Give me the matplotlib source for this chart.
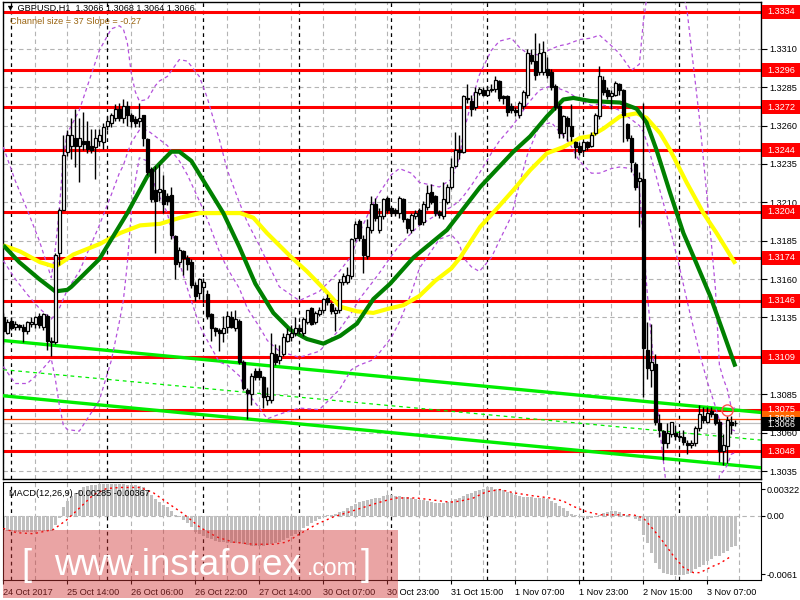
import matplotlib
matplotlib.use("Agg")
import matplotlib.pyplot as plt
import matplotlib.transforms as mtransforms
from matplotlib.patches import Rectangle
import numpy as np

plt.rcParams['font.family'] = ['Liberation Sans', 'DejaVu Sans']

# ---- GBPUSD H1 candles (24 Oct 22:00 .. 3 Nov 14:00) ----
opens = [1.3135, 1.3125, 1.3133, 1.3129, 1.3130, 1.3129, 1.3126, 1.3131, 1.3131, 1.3136,
         1.3129, 1.3136, 1.3120, 1.3119, 1.3177, 1.3205, 1.3243, 1.3247, 1.3252, 1.3247,
         1.3250, 1.3250, 1.3247, 1.3246, 1.3250, 1.3249, 1.3260, 1.3262, 1.3265, 1.3271,
         1.3265, 1.3273, 1.3267, 1.3264, 1.3263, 1.3267, 1.3251, 1.3232, 1.3218, 1.3217,
         1.3218, 1.3214, 1.3215, 1.3188, 1.3171, 1.3178, 1.3174, 1.3171, 1.3156, 1.3151,
         1.3155, 1.3150, 1.3137, 1.3128, 1.3127, 1.3125, 1.3129, 1.3135, 1.3128, 1.3133,
         1.3106, 1.3088, 1.3085, 1.3100, 1.3100, 1.3096, 1.3081, 1.3081, 1.3111, 1.3107,
         1.3111, 1.3120, 1.3122, 1.3125, 1.3128, 1.3125, 1.3132, 1.3141, 1.3132, 1.3137,
         1.3140, 1.3148, 1.3144, 1.3138, 1.3140, 1.3158, 1.3158, 1.3162, 1.3187, 1.3198,
         1.3186, 1.3175, 1.3192, 1.3209, 1.3192, 1.3201, 1.3213, 1.3206, 1.3205, 1.3203,
         1.3212, 1.3199, 1.3192, 1.3201, 1.3205, 1.3197, 1.3207, 1.3217, 1.3214, 1.3204,
         1.3201, 1.3210, 1.3220, 1.3234, 1.3244, 1.3243, 1.3278, 1.3276, 1.3272, 1.3281,
         1.3283, 1.3280, 1.3283, 1.3284, 1.3289, 1.3279, 1.3279, 1.3273, 1.3270, 1.3267,
         1.3273, 1.3280, 1.3306, 1.3302, 1.3295, 1.3295, 1.3297, 1.3295, 1.3286, 1.3273,
         1.3255, 1.3265, 1.3260, 1.3249, 1.3247, 1.3244, 1.3249, 1.3247, 1.3255, 1.3266,
         1.3290, 1.3283, 1.3279, 1.3280, 1.3287, 1.3283, 1.3261, 1.3252, 1.3235, 1.3224,
         1.3225, 1.3114, 1.3101, 1.3105, 1.3066, 1.3061, 1.3053, 1.3059, 1.3060, 1.3058,
         1.3057, 1.3053, 1.3052, 1.3053, 1.3063, 1.3071, 1.3067, 1.3074, 1.3072, 1.3067,
         1.3048, 1.3051, 1.3067, 1.3066]
highs = [1.3138, 1.3134, 1.3135, 1.3133, 1.3131, 1.3131, 1.3133, 1.3135, 1.3136, 1.3138,
         1.3138, 1.3137, 1.3122, 1.3177, 1.3206, 1.3254, 1.3257, 1.3265, 1.3271, 1.3265,
         1.3269, 1.3263, 1.3258, 1.3258, 1.3258, 1.3262, 1.3266, 1.3268, 1.3274, 1.3275,
         1.3277, 1.3276, 1.3268, 1.3266, 1.3275, 1.3267, 1.3252, 1.3233, 1.3234, 1.3235,
         1.3228, 1.3216, 1.3220, 1.3189, 1.3181, 1.3179, 1.3176, 1.3173, 1.3158, 1.3161,
         1.3161, 1.3153, 1.3138, 1.3129, 1.3128, 1.3136, 1.3139, 1.3139, 1.3140, 1.3134,
         1.3107, 1.3089, 1.3099, 1.3102, 1.3102, 1.3097, 1.3090, 1.3125, 1.3118, 1.3117,
         1.3125, 1.3128, 1.3130, 1.3135, 1.3131, 1.3135, 1.3140, 1.3142, 1.3139, 1.3142,
         1.3148, 1.3150, 1.3145, 1.3142, 1.3160, 1.3164, 1.3168, 1.3187, 1.3198, 1.3199,
         1.3189, 1.3199, 1.3214, 1.3213, 1.3206, 1.3213, 1.3214, 1.3207, 1.3206, 1.3214,
         1.3213, 1.3200, 1.3203, 1.3205, 1.3206, 1.3211, 1.3221, 1.3222, 1.3215, 1.3205,
         1.3223, 1.3222, 1.3239, 1.3256, 1.3254, 1.3280, 1.3287, 1.3280, 1.3285, 1.3285,
         1.3285, 1.3286, 1.3287, 1.3292, 1.3290, 1.3280, 1.3280, 1.3275, 1.3272, 1.3276,
         1.3283, 1.3310, 1.3310, 1.3320, 1.3314, 1.3315, 1.3305, 1.3297, 1.3287, 1.3275,
         1.3267, 1.3266, 1.3274, 1.3250, 1.3249, 1.3250, 1.3250, 1.3256, 1.3268, 1.3299,
         1.3292, 1.3285, 1.3283, 1.3289, 1.3288, 1.3284, 1.3262, 1.3254, 1.3236, 1.3230,
         1.3275, 1.3132, 1.3131, 1.3111, 1.3072, 1.3062, 1.3066, 1.3067, 1.3065, 1.3060,
         1.3062, 1.3055, 1.3055, 1.3064, 1.3078, 1.3077, 1.3077, 1.3077, 1.3073, 1.3069,
         1.3059, 1.3071, 1.3071, 1.3068]
lows = [1.3118, 1.3124, 1.3127, 1.3127, 1.3127, 1.3119, 1.3124, 1.3129, 1.3128, 1.3128,
        1.3127, 1.3114, 1.3110, 1.3118, 1.3169, 1.3205, 1.3240, 1.3238, 1.3233, 1.3223,
        1.3244, 1.3242, 1.3242, 1.3225, 1.3247, 1.3245, 1.3257, 1.3259, 1.3263, 1.3263,
        1.3262, 1.3260, 1.3259, 1.3259, 1.3259, 1.3247, 1.3228, 1.3210, 1.3177, 1.3211,
        1.3203, 1.3208, 1.3186, 1.3160, 1.3168, 1.3163, 1.3166, 1.3154, 1.3146, 1.3147,
        1.3145, 1.3134, 1.3120, 1.3123, 1.3113, 1.3119, 1.3125, 1.3128, 1.3126, 1.3105,
        1.3088, 1.3069, 1.3078, 1.3094, 1.3094, 1.3076, 1.3078, 1.3079, 1.3104, 1.3105,
        1.3110, 1.3119, 1.3120, 1.3123, 1.3124, 1.3123, 1.3131, 1.3130, 1.3131, 1.3136,
        1.3138, 1.3143, 1.3137, 1.3126, 1.3138, 1.3156, 1.3157, 1.3160, 1.3185, 1.3185,
        1.3164, 1.3173, 1.3190, 1.3198, 1.3190, 1.3199, 1.3203, 1.3201, 1.3201, 1.3200,
        1.3197, 1.3190, 1.3190, 1.3199, 1.3195, 1.3195, 1.3205, 1.3209, 1.3201, 1.3200,
        1.3199, 1.3209, 1.3219, 1.3233, 1.3238, 1.3242, 1.3275, 1.3266, 1.3270, 1.3280,
        1.3279, 1.3279, 1.3282, 1.3282, 1.3276, 1.3274, 1.3266, 1.3268, 1.3266, 1.3265,
        1.3271, 1.3278, 1.3300, 1.3290, 1.3293, 1.3293, 1.3291, 1.3283, 1.3270, 1.3252,
        1.3252, 1.3250, 1.3250, 1.3239, 1.3241, 1.3242, 1.3244, 1.3246, 1.3254, 1.3264,
        1.3280, 1.3277, 1.3271, 1.3279, 1.3280, 1.3249, 1.3250, 1.3230, 1.3218, 1.3194,
        1.3083, 1.3095, 1.3090, 1.3065, 1.3057, 1.3042, 1.3050, 1.3057, 1.3055, 1.3055,
        1.3052, 1.3046, 1.3050, 1.3051, 1.3061, 1.3066, 1.3066, 1.3070, 1.3065, 1.3041,
        1.3039, 1.3040, 1.3059, 1.3064]
closes = [1.3126, 1.3132, 1.3128, 1.3131, 1.3129, 1.3126, 1.3132, 1.3132, 1.3135, 1.3130,
          1.3137, 1.3120, 1.3119, 1.3176, 1.3205, 1.3241, 1.3254, 1.3254, 1.3247, 1.3252,
          1.3248, 1.3245, 1.3244, 1.3252, 1.3254, 1.3259, 1.3263, 1.3267, 1.3271, 1.3265,
          1.3273, 1.3267, 1.3263, 1.3262, 1.3265, 1.3252, 1.3230, 1.3212, 1.3211, 1.3219,
          1.3209, 1.3211, 1.3189, 1.3170, 1.3179, 1.3174, 1.3170, 1.3156, 1.3149, 1.3160,
          1.3158, 1.3136, 1.3128, 1.3126, 1.3125, 1.3128, 1.3136, 1.3129, 1.3134, 1.3106,
          1.3089, 1.3086, 1.3097, 1.3096, 1.3096, 1.3083, 1.3084, 1.3112, 1.3106, 1.3110,
          1.3122, 1.3124, 1.3125, 1.3128, 1.3126, 1.3134, 1.3140, 1.3131, 1.3138, 1.3140,
          1.3147, 1.3145, 1.3139, 1.3140, 1.3158, 1.3162, 1.3163, 1.3186, 1.3196, 1.3187,
          1.3176, 1.3194, 1.3209, 1.3200, 1.3201, 1.3212, 1.3205, 1.3203, 1.3203, 1.3213,
          1.3199, 1.3193, 1.3202, 1.3203, 1.3196, 1.3209, 1.3216, 1.3210, 1.3203, 1.3202,
          1.3212, 1.3220, 1.3233, 1.3244, 1.3243, 1.3279, 1.3277, 1.3271, 1.3282, 1.3284,
          1.3280, 1.3283, 1.3284, 1.3290, 1.3278, 1.3278, 1.3269, 1.3270, 1.3269, 1.3275,
          1.3282, 1.3307, 1.3302, 1.3293, 1.3307, 1.3308, 1.3293, 1.3285, 1.3272, 1.3255,
          1.3266, 1.3260, 1.3253, 1.3246, 1.3243, 1.3249, 1.3246, 1.3254, 1.3267, 1.3292,
          1.3282, 1.3279, 1.3281, 1.3288, 1.3283, 1.3267, 1.3252, 1.3236, 1.3220, 1.3226,
          1.3115, 1.3102, 1.3106, 1.3067, 1.3062, 1.3053, 1.3060, 1.3067, 1.3058, 1.3057,
          1.3054, 1.3052, 1.3053, 1.3063, 1.3072, 1.3068, 1.3073, 1.3072, 1.3066, 1.3048,
          1.3052, 1.3068, 1.3065, 1.3066]

# moving averages (bar index, price)
green_idx = [0, 4, 9, 13, 16, 17, 24, 31, 36, 42, 44, 47, 51, 55, 59, 63, 67.5, 71.7, 75.9, 80,
             84.2, 88.4, 92.5, 96.7, 102.5, 110.9, 119.2, 127.5, 131.7, 135.9, 140, 142.5,
             146.7, 154.2, 158.3, 160.8, 163.3, 166.7, 170, 173.3, 176.7, 180, 183]
green_val = [1.3182, 1.3171, 1.3160, 1.3152, 1.3153, 1.3155, 1.3173, 1.3203, 1.3227, 1.3243,
             1.3243, 1.3237, 1.3220, 1.3203, 1.3181, 1.3157, 1.3138, 1.3127, 1.3121, 1.3118,
             1.3123, 1.3131, 1.3147, 1.3157, 1.3174, 1.3192, 1.3220, 1.3243, 1.3253, 1.3266,
             1.3277, 1.3278, 1.3276, 1.3275, 1.3271, 1.3262, 1.3244, 1.3216, 1.3190, 1.3170,
             1.3149, 1.3125, 1.3103]
yellow_idx = [0, 4.2, 9.2, 13, 17.5, 24.2, 29.2, 34.2, 39.2, 44.2, 49.2, 55, 59.2, 62.5, 65.9,
              71.7, 75.9, 80, 84.2, 88.4, 92.5, 96.7, 100, 104, 108, 112, 114.2, 119.2, 123.4,
              127.5, 131.7, 135.9, 140, 144.2, 146.7, 150, 154.2, 158.3, 160.8, 164.2, 166.7,
              170.8, 175, 178.3, 183]
yellow_val = [1.3182, 1.3178, 1.3171, 1.3168, 1.3176, 1.3183, 1.3190, 1.3195, 1.3196, 1.3200,
              1.3203, 1.3203, 1.3203, 1.3200, 1.3190, 1.3175, 1.3165, 1.3154, 1.3142, 1.3139,
              1.3138, 1.3141, 1.3143, 1.3149, 1.3159, 1.3167, 1.3174, 1.3194, 1.3206, 1.3218,
              1.3231, 1.3242, 1.3246, 1.3252, 1.3253, 1.3258, 1.3266, 1.3268, 1.3265, 1.3255,
              1.3244, 1.3223, 1.3203, 1.3190, 1.3170]

# bollinger bands (upper / middle / lower)
bb_idx = [0, 3, 6, 9, 12, 13, 14, 15, 16, 19, 24, 27, 29, 30, 31, 32, 33, 34, 36, 38,
          39, 41, 44, 46, 49, 51, 54, 56, 59, 61, 64, 66, 69, 74, 79, 84, 87, 89, 92, 94,
          97, 99, 102, 104, 109, 112, 114, 115, 117, 119, 122, 124, 127, 129, 131, 134, 137,
          139, 141, 144, 147, 149, 152, 154, 157, 159, 160, 161, 163, 164, 166, 169, 171,
          174, 176, 177, 178, 179, 180, 181, 182, 183]
bb_upper = [1.3246, 1.3224, 1.3205, 1.3185, 1.3161, 1.3180, 1.3205, 1.3240, 1.3255, 1.3270,
            1.3309, 1.3323, 1.3325, 1.3323, 1.3314, 1.3294, 1.3282, 1.3276, 1.3277, 1.3286,
            1.3289, 1.3292, 1.3303, 1.3302, 1.3292, 1.3278, 1.3251, 1.3231, 1.3210, 1.3197,
            1.3182, 1.3171, 1.3155, 1.3146, 1.3152, 1.3165, 1.3175, 1.3190, 1.3207, 1.3216,
            1.3228, 1.3232, 1.3229, 1.3223, 1.3220, 1.3225, 1.3239, 1.3255, 1.3275, 1.3293,
            1.3309, 1.3315, 1.3317, 1.3311, 1.3307, 1.3306, 1.3310, 1.3312, 1.3313, 1.3316,
            1.3317, 1.3319, 1.3312, 1.3307, 1.3296, 1.3300, 1.3328, 1.3346, 1.3365, 1.3373,
            1.3380, 1.3361, 1.3333, 1.3265, 1.3211, 1.3183, 1.3154, 1.3104, 1.3095, 1.3088,
            1.3076, 1.3076]
bb_mid = [1.3172, 1.3160, 1.3150, 1.3141, 1.3134, 1.3137, 1.3141, 1.3147, 1.3153, 1.3165,
          1.3195, 1.3215, 1.3229, 1.3234, 1.3242, 1.3249, 1.3253, 1.3257, 1.3257, 1.3253,
          1.3251, 1.3247, 1.3237, 1.3228, 1.3211, 1.3199, 1.3178, 1.3167, 1.3154, 1.3141,
          1.3129, 1.3120, 1.3113, 1.3109, 1.3113, 1.3127, 1.3138, 1.3147, 1.3157, 1.3164,
          1.3175, 1.3182, 1.3190, 1.3195, 1.3203, 1.3207, 1.3211, 1.3214, 1.3221, 1.3229,
          1.3242, 1.3250, 1.3259, 1.3266, 1.3274, 1.3283, 1.3286, 1.3284, 1.3282, 1.3277,
          1.3273, 1.3274, 1.3272, 1.3270, 1.3264, 1.3260, 1.3256, 1.3248, 1.3229, 1.3219,
          1.3200, 1.3168, 1.3145, 1.3112, 1.3093, 1.3085, 1.3077, 1.3068, 1.3065, 1.3064,
          1.3062, 1.3061]
bb_lower = [1.3103, 1.3092, 1.3092, 1.3099, 1.3108, 1.3095, 1.3078, 1.3065, 1.3062, 1.3061,
            1.3081, 1.3107, 1.3132, 1.3146, 1.3170, 1.3204, 1.3224, 1.3239, 1.3237, 1.3220,
            1.3214, 1.3203, 1.3171, 1.3154, 1.3130, 1.3120, 1.3106, 1.3104, 1.3097, 1.3086,
            1.3076, 1.3069, 1.3072, 1.3076, 1.3075, 1.3088, 1.3101, 1.3104, 1.3107, 1.3112,
            1.3122, 1.3132, 1.3151, 1.3167, 1.3186, 1.3189, 1.3183, 1.3174, 1.3168, 1.3165,
            1.3174, 1.3185, 1.3201, 1.3222, 1.3241, 1.3260, 1.3262, 1.3256, 1.3251, 1.3237,
            1.3229, 1.3229, 1.3232, 1.3233, 1.3232, 1.3219, 1.3184, 1.3150, 1.3093, 1.3064,
            1.3019, 1.2976, 1.2958, 1.2959, 1.2975, 1.2987, 1.3001, 1.3032, 1.3035, 1.3039,
            1.3046, 1.3047]

# MACD histogram and signal
macd = [-0.0013, -0.0014, -0.0014, -0.0015, -0.0015, -0.0015, -0.0015, -0.0015, -0.0015, -0.0014,
        -0.0014, -0.0014, -0.0014, -0.0009, -0.0002, 0.0008, 0.0014, 0.0019, 0.0022, 0.0025,
        0.0027, 0.0028, 0.0029, 0.0029, 0.0030, 0.0030, 0.0030, 0.0030, 0.0030, 0.0030,
        0.0030, 0.0029, 0.0029, 0.0029, 0.0028, 0.0027, 0.0024, 0.0020, 0.0016, 0.0013,
        0.0010, 0.0008, 0.0005, 0.0001, -0.0001, -0.0004, -0.0007, -0.0011, -0.0015, -0.0017,
        -0.0019, -0.0021, -0.0022, -0.0024, -0.0025, -0.0025, -0.0026, -0.0026, -0.0026, -0.0026,
        -0.0027, -0.0028, -0.0029, -0.0029, -0.0029, -0.0029, -0.0028, -0.0027, -0.0026, -0.0025,
        -0.0023, -0.0021, -0.0019, -0.0017, -0.0015, -0.0012, -0.0010, -0.0007, -0.0005, -0.0003,
        -0.0001, 0.0001, 0.0001, 0.0002, 0.0004, 0.0005, 0.0007, 0.0009, 0.0011, 0.0013,
        0.0014, 0.0015, 0.0016, 0.0017, 0.0017, 0.0019, 0.0020, 0.0020, 0.0019, 0.0019,
        0.0018, 0.0018, 0.0017, 0.0016, 0.0015, 0.0015, 0.0014, 0.0013, 0.0012, 0.0012,
        0.0012, 0.0013, 0.0014, 0.0016, 0.0017, 0.0019, 0.0021, 0.0022, 0.0024, 0.0025,
        0.0026, 0.0027, 0.0027, 0.0026, 0.0026, 0.0025, 0.0023, 0.0022, 0.0020, 0.0019,
        0.0018, 0.0018, 0.0018, 0.0017, 0.0017, 0.0017, 0.0016, 0.0014, 0.0012, 0.0009,
        0.0007, 0.0005, 0.0002, 0.0001, -0.0001, -0.0002, -0.0003, -0.0002, -0.0001, 0.0001,
        0.0003, 0.0004, 0.0005, 0.0005, 0.0004, 0.0002, 0.0001, 0.0000, -0.0003, -0.0005,
        -0.0018, -0.0026, -0.0035, -0.0045, -0.0051, -0.0054, -0.0055, -0.0056, -0.0056, -0.0056,
        -0.0056, -0.0055, -0.0054, -0.0051, -0.0049, -0.0047, -0.0043, -0.0041, -0.0038, -0.0038,
        -0.0035, -0.0033, -0.0030, -0.00285]
signal_idx = [0, 3.3, 7.5, 12.5, 15.8, 19.2, 22.5, 25.8, 29.2, 34.2, 37.5, 40.8, 45, 49.2, 53.3,
              57.5, 62.5, 67.5, 70.8, 74.2, 78.3, 82.5, 86.7, 90.8, 95, 98.3, 103.3, 107.5,
              111.7, 114.2, 117.5, 120.8, 124.2, 127.5, 132.5, 136.7, 140, 142.5, 145.8, 149.2,
              153.3, 157.5, 160, 162.5, 165, 167.5, 170, 172.5, 174.2, 176.7, 179.2, 181.7]
signal_val = [-0.0012, -0.0016, -0.0017, -0.0013, -0.0004, 0.0008, 0.0020, 0.0026, 0.0027, 0.0027,
              0.0022, 0.0013, 0.0002, -0.0011, -0.0020, -0.0025, -0.0027, -0.0027, -0.0025, -0.0017,
              -0.0008, -0.0001, 0.0004, 0.0009, 0.0014, 0.0017, 0.0017, 0.0015, 0.0013, 0.0014,
              0.0017, 0.0023, 0.0025, 0.0022, 0.0019, 0.0017, 0.0014, 0.0009, 0.0004, 0.0001,
              0.0001, 0.0001, -0.0002, -0.0013, -0.0025, -0.0038, -0.0049, -0.0054, -0.0054,
              -0.0049, -0.0045, -0.0039]

levels = [1.3334, 1.3296, 1.3272, 1.3244, 1.3204, 1.3174, 1.3146, 1.3109, 1.3075, 1.3048]
price_ticks = [1.3310, 1.3285, 1.3260, 1.3235, 1.3210, 1.3185, 1.3160, 1.3135, 1.3110, 1.3085,
               1.3060, 1.3035]
# tick labels hidden behind a level box in the terminal
hidden_ticks = [1.3110]
# regression channel: start / end prices (bar 0 and bar 190)
chan_x = [0, 190]
chan_upper = [1.3120, 1.3073]
chan_mid = [1.3101, 1.3055]
chan_lower = [1.3084, 1.3037]
day_starts = [2, 26, 50, 74, 97, 121, 145, 169]
time_ticks = [0, 16, 32, 48, 64, 80, 96, 112, 128, 144, 160, 176]
time_labels = ["24 Oct 2017", "25 Oct 14:00", "26 Oct 06:00", "26 Oct 22:00", "27 Oct 14:00",
               "30 Oct 07:00", "30 Oct 23:00", "31 Oct 15:00", "1 Nov 07:00", "1 Nov 23:00",
               "2 Nov 15:00", "3 Nov 07:00"]
# MACD window scale: max / zero / min labels (drawn just inside the window edges)
macd_ticks = [0.00255, 0.0, -0.00553]
macd_labels = ["0.00322", "0.00", "-0.0061"]
bid = 1.3066
ask_line = 1.3069

W, H = 800, 600
FS = 6.6
fig = plt.figure(figsize=(8, 6), dpi=100)
fig.patch.set_facecolor("white")

def fx(px):
    return px / W

def fy(py):
    return 1 - py / H

ax = fig.add_axes([fx(2.5), fy(479), fx(761 - 2.5), (479 - 2) / H])
mx = fig.add_axes([fx(2.5), fy(580), fx(761 - 2.5), (580 - 482) / H])

XMIN, XMAX = -0.2, 189.4
n = len(closes)
idx = np.arange(n)
o = np.array(opens); c = np.array(closes); hi = np.array(highs); lo = np.array(lows)

grid_kw = dict(color="#b4b4b4", lw=0.8, ls=(0, (4, 3)), zorder=0)
for a in (ax, mx):
    for g in range(0, 190, 8):
        a.axvline(g, **grid_kw)
    for d in day_starts:
        a.axvline(d, color="black", lw=0.9, ls=(0, (3, 3)), zorder=0.5)
for t in price_ticks:
    ax.axhline(t, **grid_kw)

# horizontal levels
for lv in levels:
    ax.axhline(lv, color="#ff0000", lw=2.2, zorder=2)
ax.axhline(ask_line, color="#ff4500", lw=0.9, zorder=2)
ax.axhline(bid, color="#c0c0c0", lw=0.9, zorder=2)

# channel
ax.plot(chan_x, chan_upper, color="#00ee00", lw=2.4, zorder=3)
ax.plot(chan_x, chan_lower, color="#00ee00", lw=2.4, zorder=3)
ax.plot(chan_x, chan_mid, color="#00ee00", lw=0.9, ls=(0, (3, 3)), zorder=3)

# bollinger bands
for band in (bb_upper, bb_mid, bb_lower):
    ax.plot(bb_idx, band, color="#b450dc", lw=0.9, ls=(0, (3, 2.5)), zorder=3)

# moving averages
ax.plot(yellow_idx, yellow_val, color="#ffff00", lw=3.0, zorder=4, solid_capstyle="butt")
ax.plot(green_idx, green_val, color="#008000", lw=3.0, zorder=4, solid_capstyle="butt")

# candles
ax.vlines(idx, lo, hi, color="black", lw=1.0, zorder=5)
up = c >= o
body_lo = np.minimum(o, c)
body_h = np.maximum(np.abs(c - o), 0.00004)
ax.bar(idx[up], body_h[up], bottom=body_lo[up], width=0.7, color="white",
       edgecolor="black", lw=0.9, zorder=6)
ax.bar(idx[~up], body_h[~up], bottom=body_lo[~up], width=0.7, color="black",
       edgecolor="black", lw=0.9, zorder=6)

# alert circle
ax.plot([180.8], [1.30748], marker="o", ms=8, mfc="none", mec="#ff5050", mew=1.0, zorder=7)

ax.set_xlim(XMIN, XMAX)
ax.set_ylim(1.30298, 1.33405)
ax.yaxis.tick_right()
ax.set_yticks(price_ticks)
ax.set_yticklabels(["" if t in hidden_ticks else "%.4f" % t for t in price_ticks], fontsize=FS)
ax.tick_params(axis="y", length=4, width=0.8, pad=2, direction="out")
ax.set_xticks([])
for s in ax.spines.values():
    s.set_linewidth(1.0)

# MACD panel
mx.bar(idx, macd, width=0.7, color="#c0c0c0", zorder=2)
mx.plot(signal_idx, signal_val, color="#ff0000", lw=1.0, ls=(0, (1.5, 2.5)), zorder=3)
mx.axhline(0, **grid_kw)
mx.set_xlim(XMIN, XMAX)
mx.set_ylim(-0.0061, 0.00322)
mx.yaxis.tick_right()
mx.set_yticks(macd_ticks)
mx.set_yticklabels(macd_labels, fontsize=FS)
mx.tick_params(axis="y", length=3, width=0.8, pad=1)
mx.set_xticks(time_ticks)
mx.set_xticklabels(time_labels, fontsize=FS, ha="left")
mx.tick_params(axis="x", length=3, width=0.8, pad=3)
mx.text(0.008, 0.93, "MACD(12,26,9) -0.00285 -0.00367", transform=mx.transAxes,
        fontsize=FS, va="top", ha="left", zorder=10)

# right price boxes
tr = mtransforms.blended_transform_factory(fig.transFigure, ax.transData)
bh = 14 / 15351.0
def price_box(val, face, text, tcol="white"):
    r = Rectangle((fx(762), val - bh / 2), fx(38), bh, transform=tr, facecolor=face,
                  edgecolor="none", zorder=20, clip_on=False)
    fig.patches.append(r)
    fig.text(fx(767), val, text, transform=tr, fontsize=FS, color=tcol, va="center",
             ha="left", zorder=21)

for lv in levels:
    price_box(lv, "#ff0000", "%.4f" % lv)
price_box(ask_line + 0.00005, "#ff6600", "%.4f" % ask_line)
price_box(bid - 0.00005, "#000000", "%.4f" % bid)

# header texts
fig.text(fx(6), fy(8), "\u25bc GBPUSD,H1  1.3066 1.3068 1.3064 1.3066", fontsize=FS,
         va="center", ha="left", zorder=30)
fig.text(fx(10), fy(22), "Channel size = 37 Slope = -0.27", fontsize=FS, color="#9a6410",
         va="center", ha="left", zorder=30)

# watermark
fig.patches.append(Rectangle((fx(3), fy(598)), fx(395), (598 - 530) / H,
                             transform=fig.transFigure, facecolor="#d13737", alpha=0.45,
                             edgecolor="none", zorder=40))
wm = dict(color="white", va="baseline", ha="left", zorder=41, family="Liberation Sans")
fig.text(fx(21), fy(575), "[", fontsize=26, **wm)
fig.text(fx(54), fy(575), "www.instaforex", fontsize=26.5, **wm)
fig.text(fx(307), fy(575), ".com", fontsize=16.5, **wm)
fig.text(fx(361), fy(575), "]", fontsize=26, **wm)

fig.savefig("out.png", dpi=100)
